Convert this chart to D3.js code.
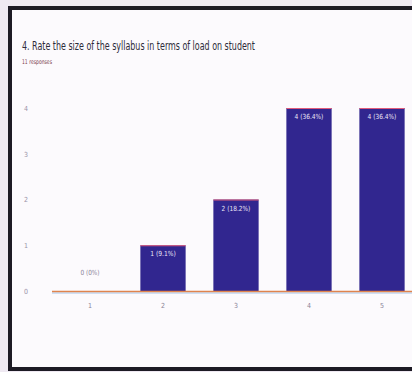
<!DOCTYPE html>
<html><head><meta charset="utf-8">
<script src="https://cdn.jsdelivr.net/npm/d3@7"></script>
<style>
html,body{margin:0;padding:0;background:#efe9f2;}
svg{display:block;}
text{font-family:"Liberation Sans Narrow","DejaVu Sans Condensed","Roboto Condensed",sans-serif;font-stretch:condensed;}
</style></head>
<body>
<svg id="c" width="412" height="372"></svg>
<script>
const categories = ["1","2","3","4","5"];
const counts = [0,1,2,4,4];
const labels = ["0 (0%)","1 (9.1%)","2 (18.2%)","4 (36.4%)","4 (36.4%)"];
const yTicks = [0,1,2,3,4];
const title = "4. Rate the size of the syllabus in terms of load on student";
const subtitle = "11 responses";

const svg = d3.select("#c");
// frame
svg.append("rect").attr("x",0).attr("y",0).attr("width",412).attr("height",372).attr("fill","#efe9f2");
svg.append("rect").attr("x",10).attr("y",8).attr("width",410).attr("height",361)
  .attr("fill","#fcfafd").attr("stroke","#1d1a24").attr("stroke-width",4);

svg.append("text").attr("x",22).attr("y",50).attr("font-size",12).attr("fill","#2e2c3a")
  .attr("textLength",233).attr("lengthAdjust","spacingAndGlyphs").text(title);
svg.append("text").attr("x",22).attr("y",64).attr("font-size",6.5).attr("fill","#7a3a4a")
  .attr("textLength",30).attr("lengthAdjust","spacingAndGlyphs").text(subtitle);

const x = d3.scaleBand().domain(categories).range([53.5,418.5]).paddingInner(0.38).paddingOuter(0.19);
const y = d3.scaleLinear().domain([0,4]).range([291,108]);

// y axis labels
const ya = svg.append("g").attr("transform","translate(26,0)")
  .call(d3.axisLeft(y).tickValues(yTicks).tickFormat(d3.format("d")).tickSize(0));
ya.select(".domain").remove();
ya.selectAll("text").attr("font-size",7).attr("fill","#9a93a8").attr("text-anchor","middle").attr("dx",0).attr("x",0);

// bars
svg.selectAll("rect.bar").data(categories).enter().append("rect").attr("class","bar")
  .attr("x",d=>x(d)).attr("width",x.bandwidth())
  .attr("y",(d,i)=>y(counts[i])).attr("height",(d,i)=>y(0)-y(counts[i]))
  .attr("fill","#31268f");
svg.selectAll("line.top").data(categories.filter((d,i)=>counts[i]>0)).enter().append("line")
  .attr("x1",d=>x(d)).attr("x2",d=>x(d)+x.bandwidth())
  .attr("y1",d=>y(counts[categories.indexOf(d)])+0.5).attr("y2",d=>y(counts[categories.indexOf(d)])+0.5)
  .attr("stroke","#e05a7a").attr("stroke-width",1);

// x axis
svg.append("line").attr("x1",52).attr("x2",420).attr("y1",293).attr("y2",293).attr("stroke","#8fb8e6").attr("stroke-width",0.8);
const xa = svg.append("g").attr("transform","translate(0,291)")
  .call(d3.axisBottom(x).tickSize(0).tickPadding(12));
xa.select(".domain").attr("stroke","#e0844e").attr("stroke-width",1.4).attr("d","M52,0.5H420");
xa.selectAll("text").attr("font-size",7).attr("fill","#8a8398");

// value labels
svg.selectAll("text.val").data(categories).enter().append("text").attr("class","val")
  .attr("x",d=>x(d)+x.bandwidth()/2)
  .attr("y",(d,i)=>counts[i]>0 ? y(counts[i])+11 : y(0)-16)
  .attr("text-anchor","middle").attr("font-size",7)
  .attr("fill",(d,i)=>counts[i]>0?"#ece8f8":"#8a8398")
  .attr("textLength",(d,i)=>labels[i].length*3.2)
  .attr("lengthAdjust","spacingAndGlyphs")
  .text((d,i)=>labels[i]);
</script>
</body></html>
